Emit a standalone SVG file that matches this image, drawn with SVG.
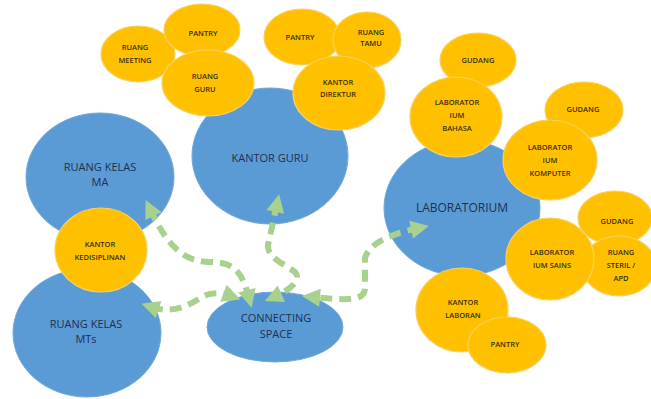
<svg xmlns="http://www.w3.org/2000/svg" width="651" height="399" viewBox="0 0 651 399">
  <style>
    .blue { fill: #5B9BD5; stroke: #6FA8DC; stroke-width: 1; }
    .gold { fill: #FFC000; stroke: #F8D060; stroke-width: 1.2; }
    .tb { font-family: "Open Sans", "Liberation Sans", sans-serif; font-size: 11px; fill: #1F2F4F; text-anchor: middle; }
    .tg { font-family: "Open Sans", "Liberation Sans", sans-serif; font-size: 7.5px; font-weight: 600; fill: #3A3000; text-anchor: middle; }
    .link { fill: none; stroke: #A9D18E; stroke-width: 6; stroke-dasharray: 12 7; marker-start: url(#head); marker-end: url(#head); }
  </style>
  <defs>
    <marker id="head" markerUnits="userSpaceOnUse" markerWidth="22" markerHeight="22" viewBox="0 0 22 22" refX="10" refY="11" orient="auto-start-reverse">
      <path d="M2,2 L20,11 L2,20 Z" fill="#A9D18E"/>
    </marker>
  </defs>
  <rect width="651" height="399" fill="#ffffff"/>

  <!-- main spaces -->
  <g id="ruang-kelas-ma">
    <ellipse class="blue" cx="100" cy="177" rx="74" ry="64"/>
    <text class="tb" x="100" y="171">RUANG KELAS</text>
    <text class="tb" x="100" y="186">MA</text>
  </g>
  <g id="ruang-kelas-mts">
    <ellipse class="blue" cx="87" cy="333" rx="74" ry="64"/>
    <text class="tb" x="86" y="328">RUANG KELAS</text>
    <text class="tb" x="86" y="343">MTs</text>
  </g>
  <g id="kantor-guru">
    <ellipse class="blue" cx="270" cy="156" rx="78" ry="68"/>
    <text class="tb" x="270" y="162">KANTOR GURU</text>
  </g>
  <g id="laboratorium">
    <ellipse class="blue" cx="462" cy="208" rx="78" ry="68"/>
    <text class="tb" x="462" y="212" style="font-size:12px">LABORATORIUM</text>
  </g>
  <g id="connecting-space">
    <ellipse class="blue" cx="275" cy="327" rx="68" ry="35"/>
    <text class="tb" x="276" y="322">CONNECTING</text>
    <text class="tb" x="276" y="338">SPACE</text>
  </g>

  <!-- rooms around the teachers' office -->
  <g id="ruang-meeting">
    <ellipse class="gold" cx="138" cy="54" rx="37" ry="28"/>
    <text class="tg" x="135" y="50">RUANG</text>
    <text class="tg" x="135" y="63">MEETING</text>
  </g>
  <g id="pantry-guru">
    <ellipse class="gold" cx="202" cy="30" rx="38" ry="26"/>
    <text class="tg" x="203" y="36">PANTRY</text>
  </g>
  <g id="ruang-guru">
    <ellipse class="gold" cx="208" cy="83" rx="46" ry="33"/>
    <text class="tg" x="205" y="79">RUANG</text>
    <text class="tg" x="205" y="92">GURU</text>
  </g>
  <g id="pantry-direktur">
    <ellipse class="gold" cx="302" cy="37" rx="38" ry="28"/>
    <text class="tg" x="300" y="40">PANTRY</text>
  </g>
  <g id="ruang-tamu">
    <ellipse class="gold" cx="367" cy="40" rx="34" ry="28"/>
    <text class="tg" x="371" y="35">RUANG</text>
    <text class="tg" x="371" y="46">TAMU</text>
  </g>
  <g id="kantor-direktur">
    <ellipse class="gold" cx="339" cy="93" rx="46" ry="37"/>
    <text class="tg" x="338" y="85">KANTOR</text>
    <text class="tg" x="338" y="97">DIREKTUR</text>
  </g>

  <!-- rooms around the laboratory -->
  <g id="gudang-bahasa">
    <ellipse class="gold" cx="478" cy="60" rx="38" ry="27"/>
    <text class="tg" x="478" y="63">GUDANG</text>
  </g>
  <g id="lab-bahasa">
    <ellipse class="gold" cx="456" cy="117" rx="46" ry="40"/>
    <text class="tg" x="457" y="105">LABORATOR</text>
    <text class="tg" x="457" y="118">IUM</text>
    <text class="tg" x="457" y="131">BAHASA</text>
  </g>
  <g id="gudang-komputer">
    <ellipse class="gold" cx="584" cy="110" rx="39" ry="28"/>
    <text class="tg" x="583" y="112">GUDANG</text>
  </g>
  <g id="lab-komputer">
    <ellipse class="gold" cx="550" cy="160" rx="47" ry="40"/>
    <text class="tg" x="550" y="150">LABORATOR</text>
    <text class="tg" x="550" y="163">IUM</text>
    <text class="tg" x="550" y="176">KOMPUTER</text>
  </g>
  <g id="gudang-sains">
    <ellipse class="gold" cx="615" cy="218" rx="37" ry="27"/>
    <text class="tg" x="617" y="224">GUDANG</text>
  </g>
  <g id="ruang-steril">
    <ellipse class="gold" cx="619" cy="266" rx="37" ry="30"/>
    <text class="tg" x="621" y="255">RUANG</text>
    <text class="tg" x="621" y="268">STERIL /</text>
    <text class="tg" x="621" y="281">APD</text>
  </g>
  <g id="lab-sains">
    <ellipse class="gold" cx="550" cy="259" rx="44" ry="41"/>
    <text class="tg" x="552" y="255">LABORATOR</text>
    <text class="tg" x="552" y="268">IUM SAINS</text>
  </g>
  <g id="kantor-laboran">
    <ellipse class="gold" cx="462" cy="310" rx="46" ry="42"/>
    <text class="tg" x="463" y="305">KANTOR</text>
    <text class="tg" x="463" y="318">LABORAN</text>
  </g>
  <g id="pantry-lab">
    <ellipse class="gold" cx="507" cy="345" rx="39" ry="28"/>
    <text class="tg" x="505" y="347">PANTRY</text>
  </g>

  <!-- office between the classrooms -->
  <g id="kantor-kedisiplinan">
    <ellipse class="gold" cx="101" cy="250" rx="46" ry="42"/>
    <text class="tg" x="100" y="247">KANTOR</text>
    <text class="tg" x="100" y="260">KEDISIPLINAN</text>
  </g>

  <!-- circulation links -->
  <g id="connectors">
    <path class="link" d="M150,209 C165,240 180,262 210,262 C235,262 242,272 249,298"/>
    <path class="link" d="M151,307 C172,314 188,306 200,298 C210,292 220,292 231,296"/>
    <path class="link" d="M277,204 L268,245 C267,258 285,264 295,272 C302,280 290,290 274,297"/>
    <path class="link" d="M419,228 C400,232 370,240 365,258 L365,288 C365,302 345,300 312,297"/>
  </g>
</svg>
